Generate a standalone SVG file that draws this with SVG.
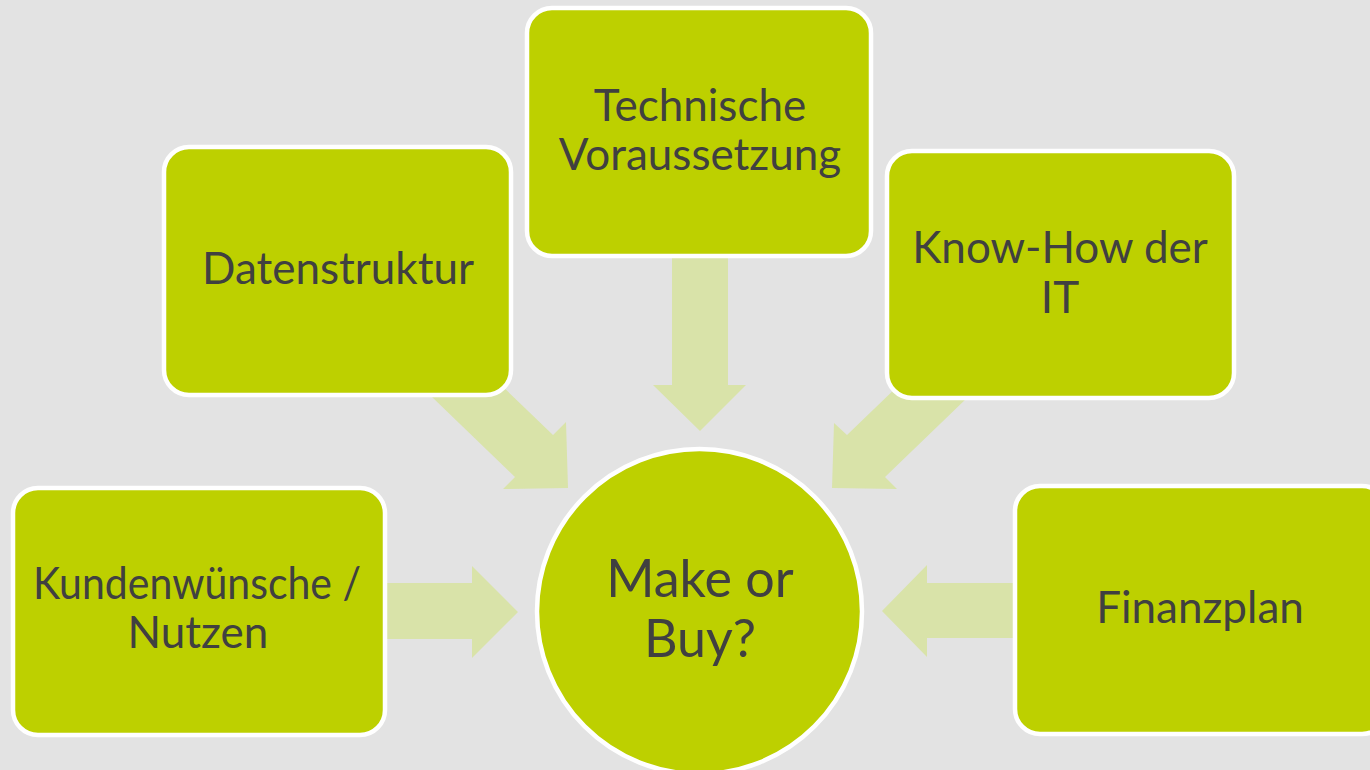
<svg xmlns="http://www.w3.org/2000/svg" width="1370" height="770" viewBox="0 0 1370 770">
<defs>
<style>
.box{fill:#bdd000;stroke:#ffffff;stroke-width:4.5}
.arr{fill:#d9e3a9;stroke:none}
.t{font-family:Lato,"Open Sans","Liberation Sans",sans-serif;font-size:44px;fill:#404040;text-anchor:middle}
.tc{font-size:52px}
</style>
</defs>
<rect x="0" y="0" width="1370" height="770" fill="#e3e3e3"/>
<g id="connectors">
<polygon class="arr" points="387,583 472,583 472,566 518,612 472,658 472,639 387,639"/>
<polygon class="arr" points="1015,583 927,583 927,565 882,611 927,657 927,638 1015,638"/>
<polygon class="arr" points="672,255 728,255 728,385 746,385 700,431 653,385 672,385"/>
<polygon class="arr" points="568,488 503,489 515,477 432,397 472,357 553,435 566,422"/>
<polygon class="arr" points="832,488 897,489 885,477 968,397 928,357 847,435 834,423"/>
</g>
<g id="node-datenstruktur">
<rect class="box" x="164" y="147" width="347" height="248" rx="25"/>
<text class="t" x="338" y="284">Datenstruktur</text>
</g>
<g id="node-technische">
<rect class="box" x="527" y="8" width="344" height="248" rx="25"/>
<text class="t" x="700" y="121">Technische</text>
<text class="t" x="700" y="170">Voraussetzung</text>
</g>
<g id="node-knowhow">
<rect class="box" x="887" y="151" width="347" height="247" rx="25"/>
<text class="t" x="1060" y="263">Know-How der</text>
<text class="t" x="1060" y="313">IT</text>
</g>
<g id="node-kunden">
<rect class="box" x="13" y="488" width="372" height="247" rx="25"/>
<text class="t" x="197" y="599" textLength="328" lengthAdjust="spacingAndGlyphs">Kundenwünsche /</text>
<text class="t" x="198" y="648">Nutzen</text>
</g>
<g id="node-finanzplan">
<rect class="box" x="1015" y="486" width="372" height="248" rx="25"/>
<text class="t" x="1200" y="623">Finanzplan</text>
</g>
<g id="node-center">
<circle class="box" cx="699.5" cy="611.5" r="162.5"/>
<text class="t tc" x="700" y="597">Make or</text>
<text class="t tc" x="700" y="657">Buy?</text>
</g>
</svg>
